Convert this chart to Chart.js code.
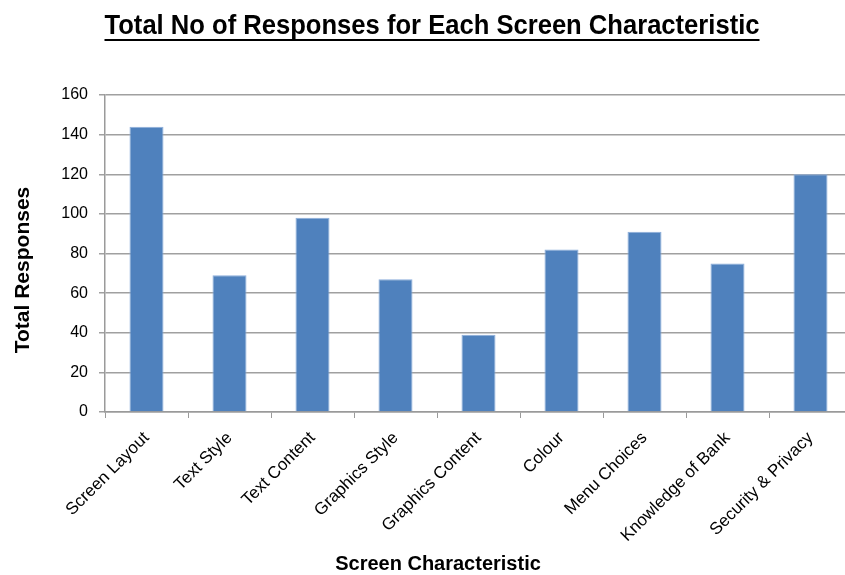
<!DOCTYPE html>
<html>
<head>
<meta charset="utf-8">
<script src="https://cdn.jsdelivr.net/npm/chart.js@4.4.1/dist/chart.umd.min.js"></script>
<style>
  html, body { margin: 0; padding: 0; background: #ffffff; overflow: hidden; }
  #wrap { position: relative; width: 852px; height: 575px; }
</style>
</head>
<body>
<div id="wrap"><canvas id="c"></canvas></div>
<script>
const chartTitle = "Total No of Responses for Each Screen Characteristic";
const xAxisTitle = "Screen Characteristic";
const yAxisTitle = "Total Responses";
const categories = ["Screen Layout", "Text Style", "Text Content", "Graphics Style", "Graphics Content", "Colour", "Menu Choices", "Knowledge of Bank", "Security & Privacy"];
const totalResponses = [144, 69, 98, 67, 39, 82, 91, 75, 120];
const yTicks = [0, 20, 40, 60, 80, 100, 120, 140, 160];

const FONT = "'Liberation Sans', Arial, sans-serif";

const titlesPlugin = {
  id: 'titlesPlugin',
  afterDraw(chart) {
    const ctx = chart.ctx;
    ctx.save();
    ctx.fillStyle = '#000000';
    // main title (condensed to the reference width) with underline
    ctx.font = "bold 28px " + FONT;
    ctx.textAlign = 'center';
    ctx.textBaseline = 'alphabetic';
    const tx = 432, ty = 34, targetW = 655;
    const w = ctx.measureText(chartTitle).width;
    const sx = Math.min(1, targetW / w);
    ctx.save();
    ctx.translate(tx, ty);
    ctx.scale(sx, 1);
    ctx.fillText(chartTitle, 0, 0);
    ctx.restore();
    ctx.fillRect(tx - (w * sx) / 2, ty + 5, w * sx, 2);
    // x axis title
    ctx.font = "bold 20px " + FONT;
    ctx.textBaseline = 'middle';
    ctx.fillText(xAxisTitle, 438, 564);
    // y axis title
    ctx.translate(23, 270);
    ctx.rotate(-Math.PI / 2);
    ctx.font = "bold 21px " + FONT;
    ctx.fillText(yAxisTitle, 0, 0);
    ctx.restore();
  }
};

new Chart(document.getElementById('c'), {
  type: 'bar',
  data: {
    labels: categories,
    datasets: [{
      label: yAxisTitle,
      data: totalResponses,
      backgroundColor: '#4F81BD',
      borderColor: '#8DAEDB',
      borderWidth: 1,
      categoryPercentage: 1.0,
      barPercentage: 0.41
    }]
  },
  options: {
    responsive: true,
    maintainAspectRatio: false,
    animation: false,
    devicePixelRatio: 1,
    layout: { padding: { top: 95, right: 0, bottom: 0, left: 0 } },
    plugins: {
      legend: { display: false },
      title: { display: false },
      tooltip: { enabled: false }
    },
    scales: {
      x: {
        offset: true,
        grid: {
          display: true,
          offset: true,
          drawOnChartArea: false,
          drawTicks: true,
          tickLength: 6,
          color: '#9a9a9a',
          lineWidth: 1
        },
        border: { display: true, color: '#9a9a9a', width: 1.5 },
        ticks: {
          color: '#000000',
          font: { family: FONT, size: 17 },
          maxRotation: 45,
          minRotation: 45,
          padding: 10,
          autoSkip: false
        },
        afterFit(scale) { scale.height = 163; }
      },
      y: {
        min: 0,
        max: 160,
        afterBuildTicks(scale) { scale.ticks = yTicks.map(v => ({ value: v })); },
        grid: {
          color: '#a0a0a0',
          lineWidth: 1.5,
          tickLength: 6,
          drawTicks: true
        },
        border: { display: true, color: '#9a9a9a', width: 1.5 },
        ticks: {
          color: '#000000',
          font: { family: FONT, size: 16 },
          padding: 11
        },
        afterFit(scale) { scale.width = 105; }
      }
    }
  },
  plugins: [titlesPlugin]
});
</script>
</body>
</html>
